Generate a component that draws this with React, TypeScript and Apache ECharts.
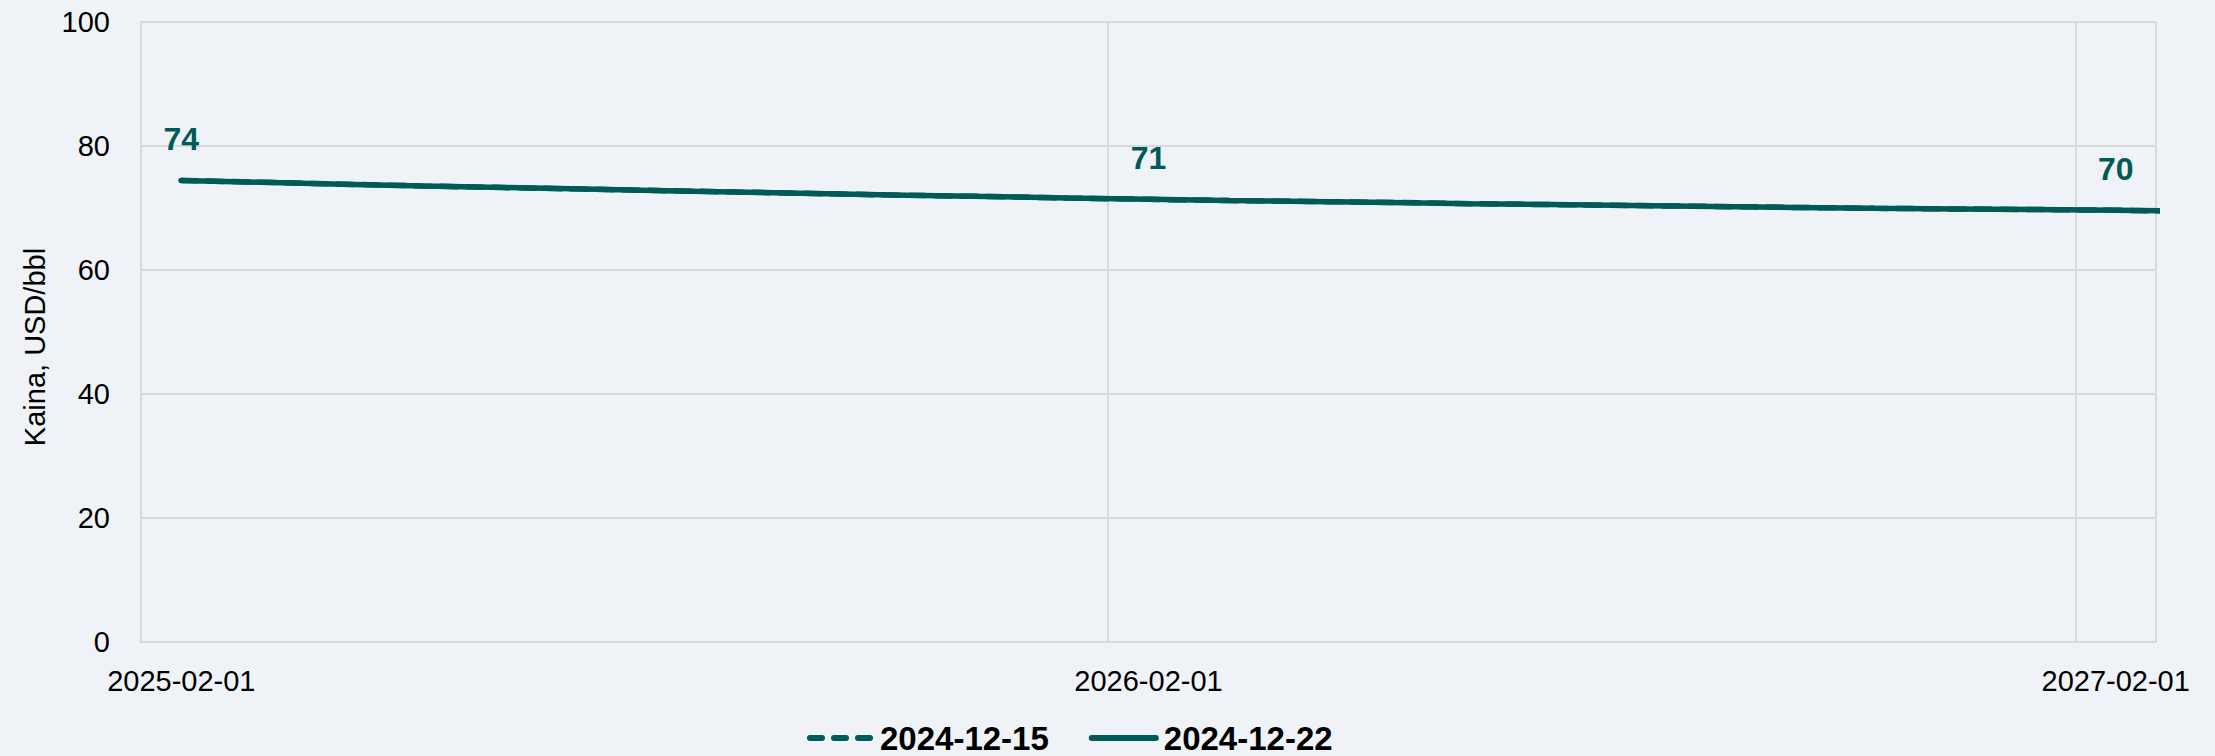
import React, { useEffect, useRef } from "react";
import * as echarts from "echarts";

const categories: string[] = [
  "2025-02-01", "2025-03-01", "2025-04-01", "2025-05-01", "2025-06-01", "2025-07-01",
  "2025-08-01", "2025-09-01", "2025-10-01", "2025-11-01", "2025-12-01", "2026-01-01",
  "2026-02-01", "2026-03-01", "2026-04-01", "2026-05-01", "2026-06-01", "2026-07-01",
  "2026-08-01", "2026-09-01", "2026-10-01", "2026-11-01", "2026-12-01", "2027-01-01",
  "2027-02-01", "2027-03-01",
];

const series1215: number[] = [
  74.45, 74.15, 73.85, 73.55, 73.3, 73.05, 72.8, 72.55, 72.3, 72.05, 71.85, 71.6,
  71.4, 71.2, 71.05, 70.9, 70.7, 70.55, 70.4, 70.25, 70.1, 69.95, 69.85, 69.75,
  69.65, 69.45,
];

const series1222: number[] = [
  74.45, 74.15, 73.85, 73.55, 73.3, 73.05, 72.8, 72.55, 72.3, 72.05, 71.85, 71.6,
  71.4, 71.2, 71.05, 70.9, 70.7, 70.55, 70.4, 70.25, 70.1, 69.95, 69.85, 69.75,
  69.65, 69.45,
];

const labelledIndexes: number[] = [0, 12, 24];
const seriesNames: string[] = ["2024-12-15", "2024-12-22"];
const yTicks = { min: 0, max: 100, interval: 20 };
const yAxisTitle = "Kaina, USD/bbl";

const TEAL = "#005A55";
const GRID = "#D9D9D9";
const BG = "#EFF3F7";
const FONT = "'Liberation Sans', Arial, sans-serif";

const DASH_ICON =
  "path://M3,0H15A3,3 0 0 1 15,6H3A3,3 0 0 1 3,0Z M27,0H39A3,3 0 0 1 39,6H27A3,3 0 0 1 27,0Z M51,0H63A3,3 0 0 1 63,6H51A3,3 0 0 1 51,0Z";
const SOLID_ICON = "path://M3,0H69A3,3 0 0 1 69,6H3A3,3 0 0 1 3,0Z";

export default function App() {
  const ref = useRef<HTMLDivElement>(null);
  useEffect(() => {
    document.body.style.margin = "0";
    document.body.style.background = BG;
    if (!ref.current) return;
    const chart = echarts.init(ref.current, null, { renderer: "svg" });
    chart.setOption({
      animation: false,
      backgroundColor: BG,
      textStyle: { fontFamily: FONT },
      grid: { left: 141, right: 59, top: 22, bottom: 114, containLabel: false },
      legend: {
        left: 802,
        top: 716,
        itemWidth: 70,
        itemHeight: 6,
        itemGap: 40,
        textStyle: {
          fontFamily: FONT,
          fontSize: 33,
          lineHeight: 34,
          fontWeight: "bold",
          color: "#000",
        },
        data: [
          { name: seriesNames[0], icon: DASH_ICON },
          { name: seriesNames[1], icon: SOLID_ICON },
        ],
      },
      xAxis: {
        type: "category",
        data: categories,
        boundaryGap: true,
        max: 24,
        axisLine: { show: true, lineStyle: { color: GRID, width: 2 } },
        axisTick: { show: false },
        axisLabel: {
          interval: 11,
          margin: 24,
          fontSize: 29,
          color: "#000",
          fontFamily: FONT,
        },
        splitLine: { show: true, interval: 11, lineStyle: { color: GRID, width: 2 } },
      },
      yAxis: {
        type: "value",
        min: yTicks.min,
        max: yTicks.max,
        interval: yTicks.interval,
        axisLine: { show: true, lineStyle: { color: GRID, width: 2 } },
        axisTick: { show: false },
        axisLabel: { fontSize: 29, color: "#000", margin: 31, fontFamily: FONT },
        splitLine: { show: true, lineStyle: { color: GRID, width: 2 } },
      },
      graphic: [
        {
          type: "text",
          x: 35,
          y: 347,
          rotation: Math.PI / 2,
          style: {
            text: yAxisTitle,
            fontSize: 29,
            fontFamily: "'Liberation Sans Narrow', 'Liberation Sans', Arial, sans-serif",
            fill: "#000",
            textAlign: "center",
            textVerticalAlign: "middle",
          },
        },
      ],
      series: [
        {
          name: seriesNames[0],
          type: "line",
          data: series1215,
          symbol: "none",
          clip: true,
          lineStyle: { color: TEAL, width: 5.5, type: [16, 10], cap: "round" },
          itemStyle: { color: TEAL },
        },
        {
          name: seriesNames[1],
          type: "line",
          data: series1222,
          symbol: "circle",
          symbolSize: 2,
          showSymbol: true,
          clip: true,
          lineStyle: { color: TEAL, width: 5.5, type: "solid", cap: "round" },
          itemStyle: { color: TEAL },
          label: {
            show: true,
            position: "top",
            distance: 24,
            fontSize: 32,
            fontWeight: "bold",
            fontFamily: FONT,
            color: TEAL,
            formatter: (p: any) =>
              labelledIndexes.indexOf(p.dataIndex) >= 0 ? String(Math.round(p.value)) : "",
          },
        },
      ],
    });
    return () => chart.dispose();
  }, []);
  return <div ref={ref} style={{ width: 2215, height: 756 }} />;
}
